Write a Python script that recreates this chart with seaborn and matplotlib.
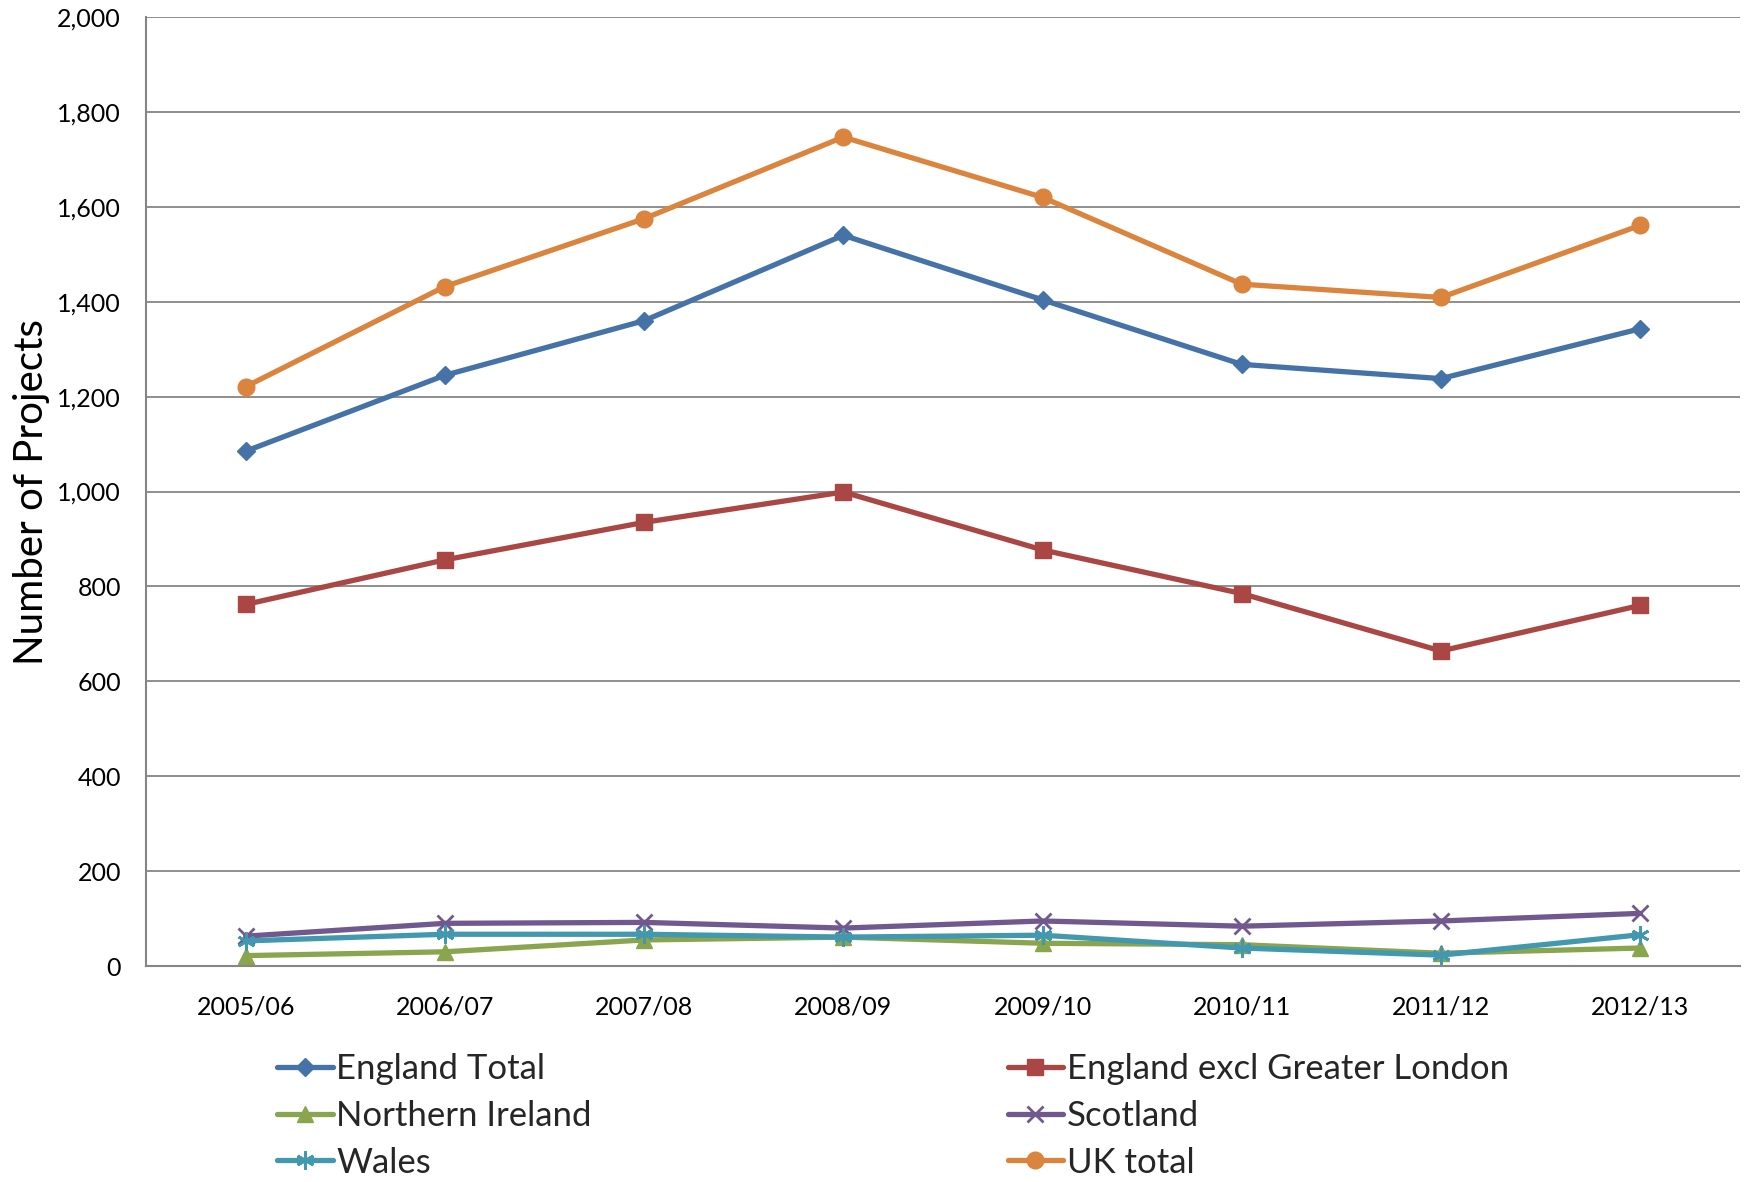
import pandas as pd
import matplotlib
matplotlib.use("Agg")
import matplotlib.pyplot as plt
from matplotlib.ticker import FuncFormatter
import seaborn as sns

# ─────────────────────────────
# DATA
# ─────────────────────────────
years = ["2005/06", "2006/07", "2007/08", "2008/09",
         "2009/10", "2010/11", "2011/12", "2012/13"]

england_total = [1085, 1245, 1360, 1540, 1404, 1268, 1238, 1343]
england_excl_london = [762, 856, 935, 999, 877, 785, 664, 760]
northern_ireland = [22, 30, 55, 61, 48, 45, 27, 38]
scotland = [63, 90, 92, 80, 95, 84, 95, 111]
wales = [53, 67, 67, 61, 65, 38, 23, 66]
uk_total = [1221, 1432, 1575, 1747, 1620, 1437, 1409, 1561]

SERIES = {
    "England Total": england_total,
    "England excl Greater London": england_excl_london,
    "Northern Ireland": northern_ireland,
    "Scotland": scotland,
    "Wales": wales,
    "UK total": uk_total,
}
COLORS = {
    "England Total": "#4572A7",
    "England excl Greater London": "#AA4643",
    "Northern Ireland": "#89A54E",
    "Scotland": "#71588F",
    "Wales": "#4198AF",
    "UK total": "#DB843D",
}
MARKERS = {
    "England Total": "D",
    "England excl Greater London": "s",
    "Northern Ireland": "^",
    "Scotland": "x",
    "Wales": (6, 2, 0),
    "UK total": "o",
}
SIZES = {
    "England Total": 9,
    "England excl Greater London": 11,
    "Northern Ireland": 12,
    "Scotland": 11,
    "Wales": 13,
    "UK total": 12,
}

rows = []
for name, vals in SERIES.items():
    for i, (yr, v) in enumerate(zip(years, vals)):
        rows.append({"Series": name, "pos": i, "Year": yr, "Projects": v})
df = pd.DataFrame(rows)

# ─────────────────────────────
# PLOT
# ─────────────────────────────
sns.set_theme(style="white")
plt.rcParams["font.family"] = ["Lato", "DejaVu Sans"]

fig = plt.figure(figsize=(17.45, 11.82), dpi=100)
ax = fig.add_axes([0.0837, 0.1827, 0.9133, 0.8029])

grid_col = "#868686"
for y in range(200, 2001, 200):
    ax.axhline(y, color=grid_col, lw=1.3, zorder=0)

handles = {}
for name in SERIES:
    sub = df[df["Series"] == name]
    sns.lineplot(data=sub, x="pos", y="Projects", ax=ax, color=COLORS[name],
                 lw=3.8, marker=MARKERS[name], markersize=SIZES[name],
                 markeredgecolor=COLORS[name],
                 markeredgewidth=2 if name in ("Scotland", "Wales") else 1,
                 label=name, legend=False)
    handles[name] = ax.lines[-1]

ax.set_xlim(-0.5, len(years) - 0.5)
ax.set_ylim(0, 2000)
ax.set_xticks(range(len(years)))
ax.set_xticklabels(years)
ax.set_yticks(range(0, 2001, 200))
ax.yaxis.set_major_formatter(FuncFormatter(lambda v, p: f"{v:,.0f}"))
ax.tick_params(axis="y", length=0, pad=18, labelsize=18, labelcolor="black")
ax.tick_params(axis="x", length=0, pad=21, labelsize=18, labelcolor="black")

for s in ["top", "right"]:
    ax.spines[s].set_visible(False)
for s in ["left", "bottom"]:
    ax.spines[s].set_color(grid_col)
    ax.spines[s].set_linewidth(1.5)

ax.set_xlabel("")
ax.set_ylabel("Number of Projects", fontsize=29, color="black")
ax.yaxis.set_label_coords(-0.060, 0.5)

# legend: two columns, row-wise order
col1 = ["England Total", "Northern Ireland", "Wales"]
col2 = ["England excl Greater London", "Scotland", "UK total"]
leg_kw = dict(loc="upper left", frameon=False, fontsize=25, handlelength=1.6,
              handletextpad=0.1, labelspacing=0.42, borderpad=0)
fig.legend([handles[n] for n in col1], col1,
           bbox_to_anchor=(0.149, 0.1235), **leg_kw)
fig.legend([handles[n] for n in col2], col2,
           bbox_to_anchor=(0.5675, 0.1235), **leg_kw)

fig.savefig("out.png", dpi=100)
